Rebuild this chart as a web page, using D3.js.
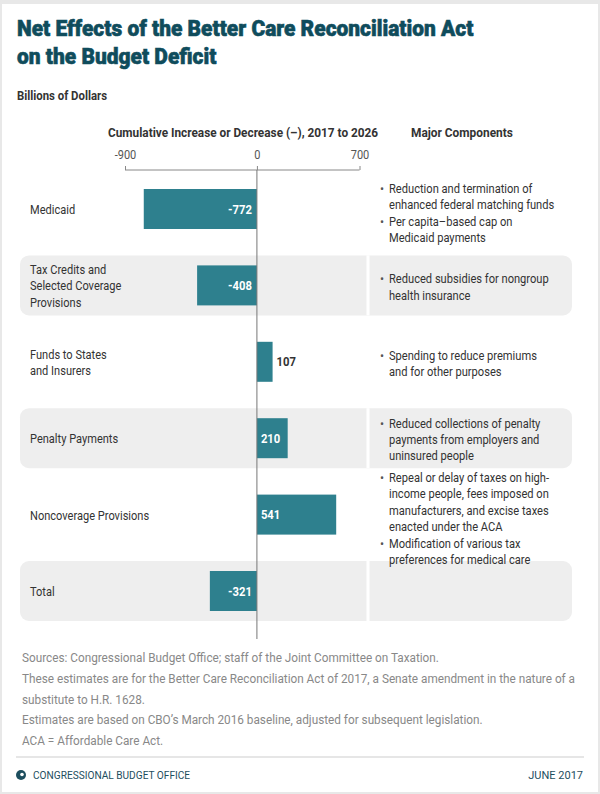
<!DOCTYPE html>
<html>
<head>
<meta charset="utf-8">
<script src="https://cdn.jsdelivr.net/npm/d3@7"></script>
<style>
  body { margin: 0; background: #fff; }
  svg { display: block; }
  text { font-family: Roboto, "Noto Sans", sans-serif; }
</style>
</head>
<body>
<div id="chart"></div>
<script>
const WIDTH = 600
const HEIGHT = 794

// data
const categories = ["Medicaid", "Tax Credits and Selected Coverage Provisions", "Funds to States and Insurers", "Penalty Payments", "Noncoverage Provisions", "Total"]
const categoryLines = [["Medicaid"], ["Tax Credits and", "Selected Coverage", "Provisions"], ["Funds to States", "and Insurers"], ["Penalty Payments"], ["Noncoverage Provisions"], ["Total"]]
const values = [-772, -408, 107, 210, 541, -321]
const components = [
    [["Reduction and termination of", "enhanced federal matching funds"], ["Per capita\u2013based cap on", "Medicaid payments"]],
    [["Reduced subsidies for nongroup", "health insurance"]],
    [["Spending to reduce premiums", "and for other purposes"]],
    [["Reduced collections of penalty", "payments from employers and", "uninsured people"]],
    [["Repeal or delay of taxes on high-", "income people, fees imposed on", "manufacturers, and excise taxes", "enacted under the ACA"], ["Modification of various tax", "preferences for medical care"]],
    []
]
const tickValues = [-900, 0, 700]
const notes = [
    "Sources: Congressional Budget Office; staff of the Joint Committee on Taxation.",
    "These estimates are for the Better Care Reconciliation Act of 2017, a Senate amendment in the nature of a",
    "substitute to H.R. 1628.",
    "Estimates are based on CBO\u2019s March 2016 baseline, adjusted for subsequent legislation.",
    "ACA = Affordable Care Act."
]

const TEAL = "#2e808e"
const DARK = "#0f4c5c"
const TEXT = "#333"

const svg = d3.select("#chart").append("svg")
    .attr("width", WIDTH)
    .attr("height", HEIGHT)

// squeeze a text horizontally (the original uses a condensed face)
function condense(sel, factor) {
    sel.each(function() {
        const w = this.getComputedTextLength()
        d3.select(this).attr("textLength", w * factor).attr("lengthAdjust", "spacingAndGlyphs")
    })
}

// frame
svg.append("rect").attr("width", WIDTH).attr("height", HEIGHT).attr("fill", "#e8e8e8")
svg.append("rect").attr("x", 2).attr("y", 4).attr("width", WIDTH - 4).attr("height", HEIGHT - 6).attr("fill", "#fff")

// title
const title = svg.append("g")
title.append("text")
    .attr("x", 17).attr("y", 36)
    .text("Net Effects of the Better Care Reconciliation Act")
title.append("text")
    .attr("x", 17).attr("y", 64)
    .text("on the Budget Deficit")
title.selectAll("text")
    .attr("fill", DARK).attr("stroke", DARK).attr("stroke-width", 0.6)
    .attr("font-size", "22.5px").attr("font-weight", 900)
    .call(condense, 0.93)

svg.append("text")
    .attr("x", 17).attr("y", 100)
    .attr("fill", TEXT).attr("font-size", "12.5px").attr("font-weight", "bold")
    .text("Billions of Dollars")
    .call(condense, 0.91)

// scales
const xScale = d3.scaleLinear().domain([-900, 700]).range([125, 359.5])
const yScale = d3.scalePoint().domain(categories).range([209, 591])
const BAR_H = 40
const BAND_H = 60
const LINE_H = 16.2
const ITEM_GAP = 17.2

// column headers
svg.append("text")
    .attr("x", 108).attr("y", 137)
    .attr("fill", TEXT).attr("font-size", "12.5px").attr("font-weight", "bold")
    .text("Cumulative Increase or Decrease (\u2013), 2017 to 2026")
    .call(condense, 0.945)
svg.append("text")
    .attr("x", 411).attr("y", 137)
    .attr("fill", TEXT).attr("font-size", "12.5px").attr("font-weight", "bold")
    .text("Major Components")
    .call(condense, 0.95)

// shaded bands for every other row
const bands = svg.append("g")
categories.forEach((c, i) => {
    if (i % 2 === 1) {
        bands.append("rect")
            .attr("x", 20).attr("y", yScale(c) - BAND_H / 2)
            .attr("width", 552).attr("height", BAND_H)
            .attr("rx", 9)
            .attr("fill", "#eeeeee")
        bands.append("rect")
            .attr("x", 366.5).attr("y", yScale(c) - BAND_H / 2)
            .attr("width", 3).attr("height", BAND_H)
            .attr("fill", "#fff")
    }
})

// axis on top
const ejeX = d3.axisTop(xScale).tickValues(tickValues).tickSize(4).tickPadding(7).tickFormat((d) => String(d))
const gAxis = svg.append("g")
    .attr("transform", "translate(0, 170)")
    .call(ejeX)
gAxis.select(".domain").attr("stroke", "#888").attr("d", `M${xScale(-900)},0H${xScale(700)}`)
gAxis.selectAll(".tick line").attr("stroke", "#888")
gAxis.selectAll(".tick text")
    .attr("fill", "#555").attr("font-size", "12.5px")
    .style("font-family", "Roboto, sans-serif")
    .call(condense, 0.88)

// bars
const bars = svg.append("g")
bars.selectAll("rect")
    .data(values)
    .join("rect")
    .attr("x", (d) => xScale(Math.min(0, d)))
    .attr("y", (d, i) => yScale(categories[i]) - BAR_H / 2)
    .attr("width", (d) => Math.abs(xScale(d) - xScale(0)))
    .attr("height", BAR_H)
    .attr("fill", TEAL)

// zero line
svg.append("line")
    .attr("x1", xScale(0)).attr("x2", xScale(0))
    .attr("y1", 170).attr("y2", 639)
    .attr("stroke", "#777").attr("stroke-width", 1)

// bar labels
bars.selectAll("text")
    .data(values)
    .join("text")
    .attr("y", (d, i) => yScale(categories[i]) + 4.5)
    .attr("x", (d) => {
        const w = Math.abs(xScale(d) - xScale(0))
        if (d < 0) return xScale(0) - 5
        return w < 30 ? xScale(d) + 4 : xScale(0) + 4
    })
    .attr("text-anchor", (d) => (d < 0 ? "end" : "start"))
    .attr("fill", (d) => (Math.abs(xScale(d) - xScale(0)) < 30 ? TEXT : "#fff"))
    .attr("font-size", "12.5px").attr("font-weight", "bold")
    .text((d) => d)
    .call(condense, 0.9)

// category labels
const labels = svg.append("g")
categoryLines.forEach((lines, i) => {
    const cy = yScale(categories[i])
    lines.forEach((ln, j) => {
        labels.append("text")
            .attr("x", 30)
            .attr("y", cy + 5 + (j - (lines.length - 1) / 2) * LINE_H)
            .attr("fill", TEXT).attr("font-size", "13px")
            .text(ln)
    })
})
labels.selectAll("text").call(condense, 0.85)

// components
const comps = svg.append("g")
components.forEach((items, i) => {
    const cy = yScale(categories[i])
    const nLines = d3.sum(items, (it) => it.length)
    const span = (nLines - items.length) * LINE_H + Math.max(0, items.length - 1) * ITEM_GAP
    let yy = cy + 5 - span / 2 + 1 + Math.max(0, items.length - 1) * 2.5
    items.forEach((it, a) => {
        if (a > 0) yy += ITEM_GAP
        it.forEach((ln, j) => {
            if (j > 0) yy += LINE_H
            if (j === 0) {
                comps.append("text")
                    .attr("x", 380).attr("y", yy)
                    .attr("fill", "#555").attr("font-size", "12px")
                    .attr("class", "bullet")
                    .text("\u2022")
            }
            comps.append("text")
                .attr("x", 389).attr("y", yy)
                .attr("fill", TEXT).attr("font-size", "13px")
                .attr("class", "comp")
                .text(ln)
        })
    })
})
comps.selectAll(".comp").call(condense, 0.855)

// notes
const gNotes = svg.append("g")
notes.forEach((n, i) => {
    gNotes.append("text")
        .attr("x", 22).attr("y", 662 + i * 20.8)
        .attr("fill", "#888").attr("font-size", "12px")
        .text(n)
})
gNotes.selectAll("text").call(condense, 0.98)

// footer
svg.append("line")
    .attr("x1", 16).attr("x2", 584)
    .attr("y1", 757).attr("y2", 757)
    .attr("stroke", "#e6e6e6").attr("stroke-width", 2)
svg.append("circle").attr("cx", 21).attr("cy", 775).attr("r", 5).attr("fill", "#1d4e5e")
svg.append("circle").attr("cx", 22).attr("cy", 774.5).attr("r", 1.8).attr("fill", "#fff")
svg.append("text")
    .attr("x", 33).attr("y", 779)
    .attr("fill", "#1d4e5e").attr("font-size", "11px")
    .text("CONGRESSIONAL BUDGET OFFICE")
    .call(condense, 0.92)
svg.append("text")
    .attr("x", 583).attr("y", 779).attr("text-anchor", "end")
    .attr("fill", "#1d4e5e").attr("font-size", "11px")
    .text("JUNE 2017")
</script>
</body>
</html>
